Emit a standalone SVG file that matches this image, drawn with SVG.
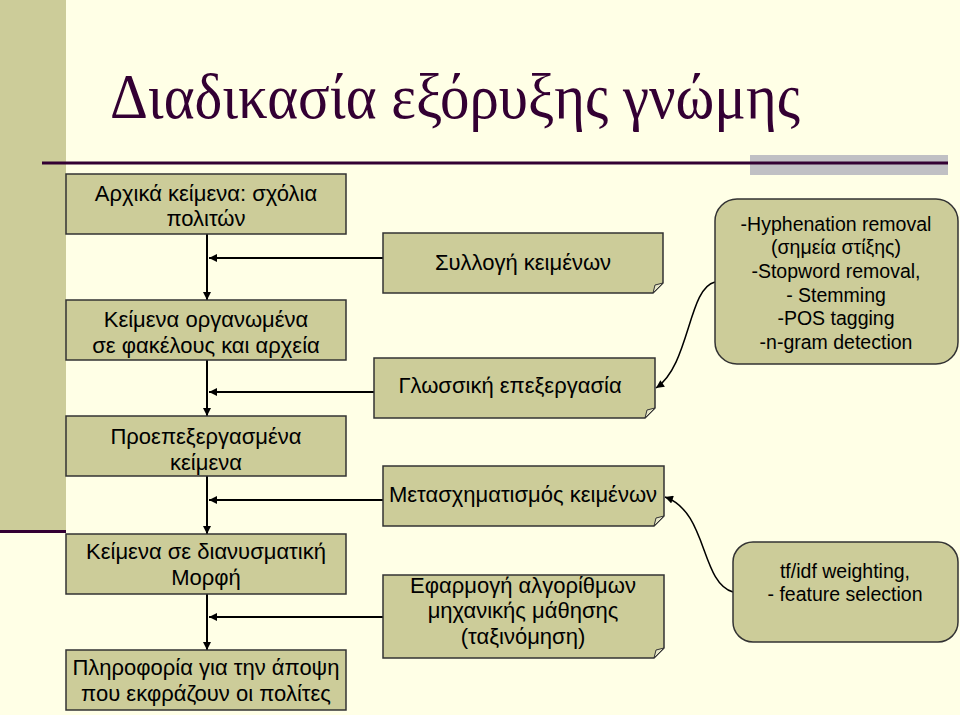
<svg xmlns="http://www.w3.org/2000/svg" width="960" height="715" viewBox="0 0 960 715">
<defs>
<style>
.bg{fill:#FFFFE6}
.box{fill:#CCCC99;stroke:#333333;stroke-width:1.5}
.fold{fill:#E6E6C8;stroke:#333333;stroke-width:1}
.t{font-family:"Liberation Sans",Arial,sans-serif;font-size:22px;fill:#000000;text-anchor:middle}
.s{font-family:"Liberation Sans",Arial,sans-serif;font-size:19.5px;fill:#000000;text-anchor:middle}
.ln{fill:none;stroke:#000000;stroke-width:2}
.cv{fill:none;stroke:#000000;stroke-width:1.5}
</style>
<marker id="ah" viewBox="0 0 10 10" refX="10" refY="5" markerWidth="9" markerHeight="8" markerUnits="userSpaceOnUse" orient="auto">
<path d="M0,0 L10,5 L0,10 Z" fill="#000000"/>
</marker>
</defs>
<rect class="bg" x="0" y="0" width="960" height="715"/>
<rect x="0" y="0" width="66" height="531" fill="#CCCC99"/>
<rect x="0" y="530" width="66" height="3" fill="#330033"/>
<rect x="750" y="155" width="198" height="20" fill="#C0C0C4"/>
<rect x="42" y="161.5" width="906" height="3" fill="#330033"/>
<text x="110" y="118" font-family="'Liberation Serif','Times New Roman',serif" font-size="64" fill="#330033" textLength="690" lengthAdjust="spacingAndGlyphs">Διαδικασία εξόρυξης γνώμης</text>

<g id="connectors">
<line class="ln" x1="207" y1="234" x2="207" y2="300" marker-end="url(#ah)"/>
<line class="ln" x1="207" y1="360" x2="207" y2="416" marker-end="url(#ah)"/>
<line class="ln" x1="207" y1="476" x2="207" y2="534" marker-end="url(#ah)"/>
<line class="ln" x1="207" y1="594" x2="207" y2="650" marker-end="url(#ah)"/>
<line class="ln" x1="383" y1="258" x2="209" y2="258" marker-end="url(#ah)"/>
<line class="ln" x1="374" y1="392" x2="209" y2="392" marker-end="url(#ah)"/>
<line class="ln" x1="383" y1="500" x2="209" y2="500" marker-end="url(#ah)"/>
<line class="ln" x1="383" y1="617" x2="209" y2="617" marker-end="url(#ah)"/>
<path class="cv" d="M715,282 C688,288 690,365 656,388" marker-end="url(#ah)"/>
<path class="cv" d="M733,592 C700,582 708,512 665,497" marker-end="url(#ah)"/>
</g>

<g id="n1"><rect class="box" x="66" y="174" width="280" height="60"/>
<text class="t" x="206" y="201">Αρχικά κείμενα: σχόλια</text><text class="t" x="206" y="226">πολιτών</text></g>
<g id="n2"><rect class="box" x="66" y="300" width="280" height="60"/>
<text class="t" x="206" y="327">Κείμενα οργανωμένα</text><text class="t" x="206" y="353">σε φακέλους και αρχεία</text></g>
<g id="n3"><rect class="box" x="66" y="416" width="280" height="60"/>
<text class="t" x="206" y="444">Προεπεξεργασμένα</text><text class="t" x="206" y="470">κείμενα</text></g>
<g id="n4"><rect class="box" x="66" y="534" width="280" height="60"/>
<text class="t" x="206" y="559">Κείμενα σε διανυσματική</text><text class="t" x="206" y="585">Μορφή</text></g>
<g id="n5"><rect class="box" x="66" y="650" width="280" height="60"/>
<text class="t" x="206" y="675">Πληροφορία για την άποψη</text><text class="t" x="206" y="701">που εκφράζουν οι πολίτες</text></g>

<g id="nA"><path class="box" d="M383,233 H663 V283 L653,293 H383 Z"/><path class="fold" d="M653,293 L655,285 L663,283 Z"/>
<text class="t" x="523" y="270">Συλλογή κειμένων</text></g>
<g id="nB"><path class="box" d="M374,358 H655 V408 L645,418 H374 Z"/><path class="fold" d="M645,418 L647,410 L655,408 Z"/>
<text class="t" x="510" y="393">Γλωσσική επεξεργασία</text></g>
<g id="nC"><path class="box" d="M383,466 H664 V516 L654,526 H383 Z"/><path class="fold" d="M654,526 L656,518 L664,516 Z"/>
<text class="t" x="523" y="502">Μετασχηματισμός κειμένων</text></g>
<g id="nD"><path class="box" d="M383,575 H664 V648 L654,658 H383 Z"/><path class="fold" d="M654,658 L656,650 L664,648 Z"/>
<text class="t" x="523" y="593">Εφαρμογή αλγορίθμων</text><text class="t" x="523" y="618">μηχανικής μάθησης</text><text class="t" x="523" y="644">(ταξινόμηση)</text></g>

<g id="nE"><rect class="box" x="715" y="199" width="243" height="165" rx="22"/>
<text class="s" x="836" y="231">-Hyphenation removal</text>
<text class="s" x="836" y="254">(σημεία στίξης)</text>
<text class="s" x="836" y="278">-Stopword removal,</text>
<text class="s" x="836" y="302">- Stemming</text>
<text class="s" x="836" y="325">-POS tagging</text>
<text class="s" x="836" y="349">-n-gram detection</text></g>
<g id="nF"><rect class="box" x="733" y="542" width="225" height="100" rx="20"/>
<text class="s" x="845" y="578">tf/idf weighting,</text>
<text class="s" x="845" y="601">- feature selection</text></g>
</svg>
